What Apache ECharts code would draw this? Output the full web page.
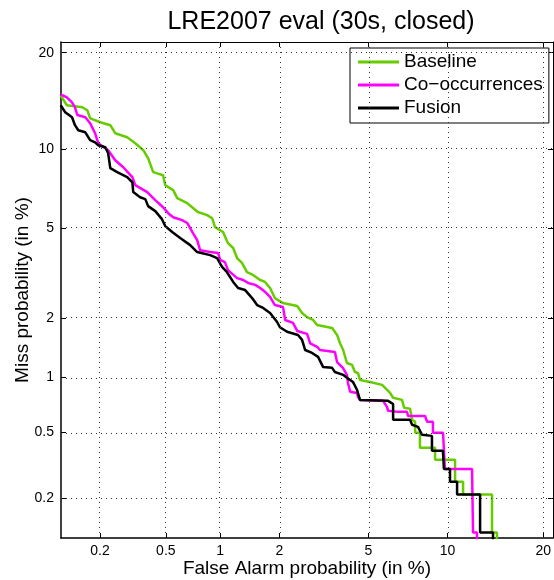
<!DOCTYPE html>
<html>
<head>
<meta charset="utf-8">
<script src="https://cdn.jsdelivr.net/npm/echarts@6/dist/echarts.min.js"></script>
<style>
html, body { margin: 0; padding: 0; background: #fff; }
#chart { width: 554px; height: 580px; }
</style>
</head>
<body>
<div id="chart"></div>
<script>
// DET plot: both axes on a normal-deviate (probit) scale, values in %
const tickPct = [0.2, 0.5, 1, 2, 5, 10, 20]
const tickLabels = ['0.2', '0.5', '1', '2', '5', '10', '20']
const faRange = [0.1116, 21.27]
const missRange = [0.1105, 21.4]

const seriesNames = ['Baseline', 'Co\u2212occurrences', 'Fusion']
const seriesColors = ['#66cc00', '#ff00ff', '#000000']

const baselineFa = [0.111, 0.122, 0.154, 0.166, 0.173, 0.201, 0.232, 0.249, 0.295, 0.33, 0.369, 0.394, 0.422, 0.482, 0.496, 0.551, 0.581, 0.661, 0.704, 0.757, 0.852, 0.906, 0.939, 1.036, 1.10, 1.171, 1.227, 1.30, 1.38, 1.48, 1.607, 1.70, 1.80, 1.90, 2.08, 2.43, 2.56, 2.70, 2.875, 3.0, 3.50, 3.68, 3.79, 3.91, 4.06, 4.27, 4.39, 4.52, 4.61, 5.07, 5.68, 5.84, 6.11, 6.28, 6.80, 6.93, 7.30, 7.43, 7.63, 7.63, 7.95, 7.95, 9.03, 9.03, 10.62, 10.62, 11.31, 11.31, 14.07, 14.07, 14.58, 14.58]
const baselineMiss = [15.0, 13.97, 13.76, 13.46, 12.68, 12.31, 12.04, 11.32, 10.97, 10.46, 9.90, 9.27, 8.26, 8.05, 7.39, 7.08, 6.60, 6.31, 6.08, 5.82, 5.66, 5.50, 5.06, 4.83, 4.34, 4.14, 3.75, 3.57, 3.25, 3.16, 3.0, 2.94, 2.76, 2.48, 2.35, 2.275, 2.11, 2.016, 1.953, 1.847, 1.784, 1.65, 1.50, 1.387, 1.19, 1.163, 1.068, 1.056, 0.97, 0.945, 0.913, 0.88, 0.826, 0.778, 0.757, 0.684, 0.676, 0.587, 0.572, 0.495, 0.495, 0.405, 0.405, 0.344, 0.344, 0.253, 0.253, 0.211, 0.211, 0.12, 0.12, 0.10]

const coocFa = [0.111, 0.122, 0.132, 0.138, 0.143, 0.161, 0.173, 0.186, 0.195, 0.225, 0.249, 0.279, 0.317, 0.33, 0.389, 0.434, 0.482, 0.516, 0.551, 0.619, 0.661, 0.687, 0.712, 0.751, 0.78, 0.884, 0.976, 1.0, 1.06, 1.10, 1.227, 1.32, 1.397, 1.518, 1.607, 1.70, 1.80, 1.90, 2.08, 2.13, 2.32, 2.43, 2.70, 2.79, 3.0, 3.09, 3.60, 3.68, 3.90, 4.06, 4.10, 4.19, 4.48, 4.52, 4.61, 5.73, 5.94, 6.0, 6.57, 7.11, 7.17, 8.30, 8.45, 8.87, 8.87, 9.64, 9.79, 12.12, 12.21, 12.58, 12.58]
const coocMiss = [15.11, 14.78, 14.27, 13.76, 13.0, 12.78, 12.22, 11.32, 10.46, 9.90, 9.12, 8.61, 7.92, 7.39, 6.96, 6.48, 6.08, 5.76, 5.55, 5.40, 5.26, 5.01, 4.78, 4.47, 4.05, 3.98, 3.94, 3.68, 3.60, 3.32, 3.06, 3.0, 2.91, 2.85, 2.76, 2.65, 2.51, 2.30, 2.25, 1.953, 1.89, 1.727, 1.67, 1.50, 1.44, 1.387, 1.356, 1.204, 1.123, 1.032, 0.935, 0.838, 0.826, 0.787, 0.757, 0.748, 0.693, 0.659, 0.65, 0.65, 0.617, 0.617, 0.572, 0.572, 0.495, 0.495, 0.303, 0.303, 0.12, 0.12, 0.10]

const fusionFa = [0.111, 0.119, 0.132, 0.138, 0.145, 0.161, 0.173, 0.186, 0.195, 0.216, 0.225, 0.232, 0.256, 0.295, 0.317, 0.321, 0.353, 0.379, 0.394, 0.434, 0.475, 0.496, 0.544, 0.604, 0.687, 0.751, 0.884, 0.963, 1.024, 1.087, 1.171, 1.242, 1.35, 1.465, 1.552, 1.663, 1.80, 1.948, 2.01, 2.175, 2.45, 2.559, 2.645, 2.845, 3.03, 3.19, 3.50, 3.60, 3.91, 4.06, 4.31, 4.48, 4.61, 6.0, 6.28, 6.28, 7.30, 7.43, 7.82, 8.09, 8.80, 8.80, 9.63, 9.71, 10.2, 10.2, 10.79, 10.79, 12.88, 12.88, 14.17, 14.17]
const fusionMiss = [13.97, 13.27, 12.78, 12.04, 11.58, 11.40, 10.72, 10.54, 10.30, 10.14, 9.66, 8.54, 8.26, 7.92, 7.58, 6.96, 6.65, 6.54, 6.14, 5.87, 5.45, 5.11, 4.83, 4.56, 4.26, 3.98, 3.86, 3.75, 3.43, 3.25, 2.94, 2.76, 2.70, 2.48, 2.30, 2.23, 2.11, 1.91, 1.80, 1.71, 1.65, 1.56, 1.387, 1.34, 1.28, 1.136, 1.123, 1.068, 1.032, 0.995, 0.945, 0.859, 0.757, 0.748, 0.719, 0.587, 0.587, 0.55, 0.535, 0.482, 0.475, 0.389, 0.389, 0.303, 0.303, 0.253, 0.253, 0.211, 0.211, 0.12, 0.12, 0.10]

// inverse normal CDF (Acklam)
function probit(p) {
    const a = [-39.69683028665376, 220.9460984245205, -275.9285104469687, 138.357751867269, -30.66479806614716, 2.506628277459239]
    const b = [-54.47609879822406, 161.5858368580409, -155.6989798598866, 66.80131188771972, -13.28068155288572]
    const c = [-0.007784894002430293, -0.3223964580411365, -2.400758277161838, -2.549732539343734, 4.374664141464968, 2.938163982698783]
    const d = [0.007784695709041462, 0.3224671290700398, 2.445134137142996, 3.754408661907416]
    const pl = 0.02425
    if (p < pl) {
        const q = Math.sqrt(-2 * Math.log(p))
        return (((((c[0] * q + c[1]) * q + c[2]) * q + c[3]) * q + c[4]) * q + c[5]) /
            ((((d[0] * q + d[1]) * q + d[2]) * q + d[3]) * q + 1)
    }
    if (p <= 1 - pl) {
        const q = p - 0.5
        const r = q * q
        return (((((a[0] * r + a[1]) * r + a[2]) * r + a[3]) * r + a[4]) * r + a[5]) * q /
            (((((b[0] * r + b[1]) * r + b[2]) * r + b[3]) * r + b[4]) * r + 1)
    }
    const q = Math.sqrt(-2 * Math.log(1 - p))
    return -(((((c[0] * q + c[1]) * q + c[2]) * q + c[3]) * q + c[4]) * q + c[5]) /
        ((((d[0] * q + d[1]) * q + d[2]) * q + d[3]) * q + 1)
}
const dev = (pct) => probit(pct / 100)

const tickDev = tickPct.map(dev)
const tickText = (v) => {
    let best = 0
    tickDev.forEach((t, i) => { if (Math.abs(t - v) < Math.abs(tickDev[best] - v)) best = i })
    return tickLabels[best]
}

const toPoints = (fa, miss) => fa.map((x, i) => [dev(x), dev(miss[i])])
const curves = [
    toPoints(baselineFa, baselineMiss),
    toPoints(coocFa, coocMiss),
    toPoints(fusionFa, fusionMiss),
]

const font = '"Liberation Sans", Arial, Helvetica, sans-serif'

const baseAxis = (range) => ({
    type: 'value',
    min: dev(range[0]),
    max: dev(range[1]),
    splitLine: { show: false },
    axisLine: { show: true, onZero: false, lineStyle: { color: '#000', width: 1.5 } },
    axisTick: { show: true, inside: true, length: 5, customValues: tickDev, lineStyle: { color: '#000', width: 1 } },
})

const chart = echarts.init(document.getElementById('chart'))
chart.setOption({
    animation: false,
    backgroundColor: '#fff',
    textStyle: { fontFamily: font },
    title: {
        text: 'LRE2007 eval (30s, closed)',
        left: 316,
        top: 5,
        textAlign: 'center',
        textStyle: { fontFamily: font, fontSize: 25, fontWeight: 'normal', color: '#000' },
    },
    grid: { left: 61, top: 42, width: 492, height: 496, containLabel: false, outerBoundsMode: 'none' },
    legend: {
        data: seriesNames,
        orient: 'vertical',
        left: 350,
        top: 48,
        icon: 'rect',
        itemWidth: 41,
        itemHeight: 3,
        itemGap: 1,
        padding: [3, 6, 4, 8],
        backgroundColor: '#fff',
        borderColor: '#000',
        borderWidth: 1,
        borderRadius: 0,
        textStyle: { fontFamily: font, fontSize: 19, color: '#000', lineHeight: 22 },
    },
    xAxis: [
        Object.assign(baseAxis(faRange), {
            position: 'bottom',
            name: 'False Alarm probability (in %)',
            nameLocation: 'middle',
            nameGap: 21,
            nameMoveOverlap: false,
            nameTextStyle: { fontFamily: font, fontSize: 19, color: '#000' },
            axisLabel: { customValues: tickDev, formatter: tickText, fontFamily: font, fontSize: 14, color: '#000', margin: 6 },
        }),
        Object.assign(baseAxis(faRange), {
            position: 'top',
            axisLabel: { show: false },
            axisLine: { show: true, onZero: false, lineStyle: { color: '#000', width: 1 } },
        }),
    ],
    yAxis: [
        Object.assign(baseAxis(missRange), {
            position: 'left',
            name: 'Miss probability (in %)',
            nameLocation: 'middle',
            nameGap: 29,
            nameMoveOverlap: false,
            nameRotate: 90,
            nameTextStyle: { fontFamily: font, fontSize: 19, color: '#000' },
            axisLabel: { customValues: tickDev, formatter: tickText, fontFamily: font, fontSize: 14, color: '#000', margin: 7 },
        }),
        Object.assign(baseAxis(missRange), {
            position: 'right',
            axisLabel: { show: false },
            axisLine: { show: true, onZero: false, lineStyle: { color: '#000', width: 1 } },
        }),
    ],
    series: [
        {
            name: 'grid',
            type: 'line',
            data: [],
            silent: true,
            z: 1,
            markLine: {
                silent: true,
                symbol: ['none', 'none'],
                label: { show: false },
                lineStyle: { color: '#333', width: 1, type: [1, 4] },
                data: [
                    ...tickDev.map((v) => ({ xAxis: v })),
                    ...tickDev.map((v) => ({ yAxis: v })),
                ],
            },
        },
        ...curves.map((pts, i) => ({
            name: seriesNames[i],
            type: 'line',
            data: pts,
            symbol: 'none',
            showSymbol: false,
            z: 3,
            color: seriesColors[i],
            lineStyle: { color: seriesColors[i], width: 2.5 },
        })),
    ],
})
</script>
</body>
</html>
